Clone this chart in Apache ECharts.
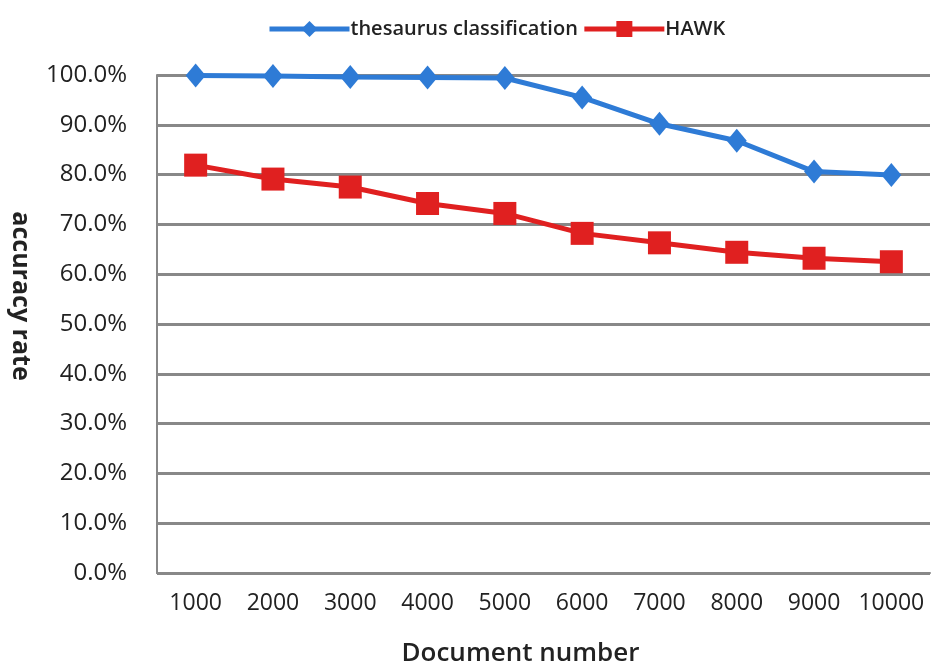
<!DOCTYPE html>
<html>
<head>
<meta charset="utf-8">
<script src="https://cdn.jsdelivr.net/npm/echarts@6/dist/echarts.min.js"></script>
<style>
  html, body { margin: 0; padding: 0; background: #fff; }
  #chart { width: 931px; height: 670px; }
</style>
</head>
<body>
<div id="chart"></div>
<script>
const categories = ['1000', '2000', '3000', '4000', '5000', '6000', '7000', '8000', '9000', '10000'];
const thesaurus = [99.9, 99.8, 99.6, 99.5, 99.4, 95.5, 90.2, 86.8, 80.6, 79.9];
const hawk = [81.9, 79.1, 77.5, 74.2, 72.2, 68.2, 66.3, 64.4, 63.2, 62.5];

const font = '"Open Sans", sans-serif';

const chart = echarts.init(document.getElementById('chart'));

const option = {
  animation: false,
  legend: {
    top: 14,
    left: 262,
    itemWidth: 80,
    itemHeight: 20,
    itemGap: 4,
    lineStyle: { width: 5 },
    textStyle: { fontFamily: font, fontSize: 20, fontWeight: 600, color: '#222', padding: [0, 0, 0, -4] },
    data: ['thesaurus classification', 'HAWK']
  },
  grid: { left: 157, right: 1, top: 75, bottom: 97, outerBoundsMode: 'none' },
  xAxis: {
    type: 'category',
    data: categories,
    boundaryGap: true,
    name: 'Document number',
    nameLocation: 'middle',
    nameGap: 68,
    nameTextStyle: { fontFamily: font, fontSize: 26, fontWeight: 600, color: '#222', padding: [0, 46, 0, 0] },
    axisLine: { lineStyle: { color: '#888', width: 2 } },
    axisTick: { show: false },
    axisLabel: { fontFamily: font, fontSize: 23, color: '#222', margin: 19, interval: 0, hideOverlap: false }
  },
  yAxis: {
    type: 'value',
    min: 0,
    max: 100,
    interval: 10,
    name: 'accuracy rate',
    nameLocation: 'middle',
    nameGap: 124,
    nameRotate: -90,
    nameTextStyle: { fontFamily: font, fontSize: 25, fontWeight: 'bold', color: '#222', padding: [0, 56, 0, 0] },
    axisLine: { show: true, lineStyle: { color: '#888', width: 2 } },
    axisTick: { show: false },
    splitLine: { lineStyle: { color: '#888', width: 3 } },
    axisLabel: {
      fontFamily: font, fontSize: 24, color: '#222', margin: 30,
      formatter: v => v.toFixed(1) + '%'
    }
  },
  series: [
    {
      name: 'thesaurus classification',
      type: 'line',
      data: thesaurus,
      symbol: 'diamond',
      symbolSize: [20, 24],
      itemStyle: { color: '#2e7bd6' },
      lineStyle: { color: '#2e7bd6', width: 5 }
    },
    {
      name: 'HAWK',
      type: 'line',
      data: hawk,
      symbol: 'rect',
      symbolSize: 23,
      itemStyle: { color: '#e02020' },
      lineStyle: { color: '#e02020', width: 5 }
    }
  ]
};

chart.setOption(option);
</script>
</body>
</html>
